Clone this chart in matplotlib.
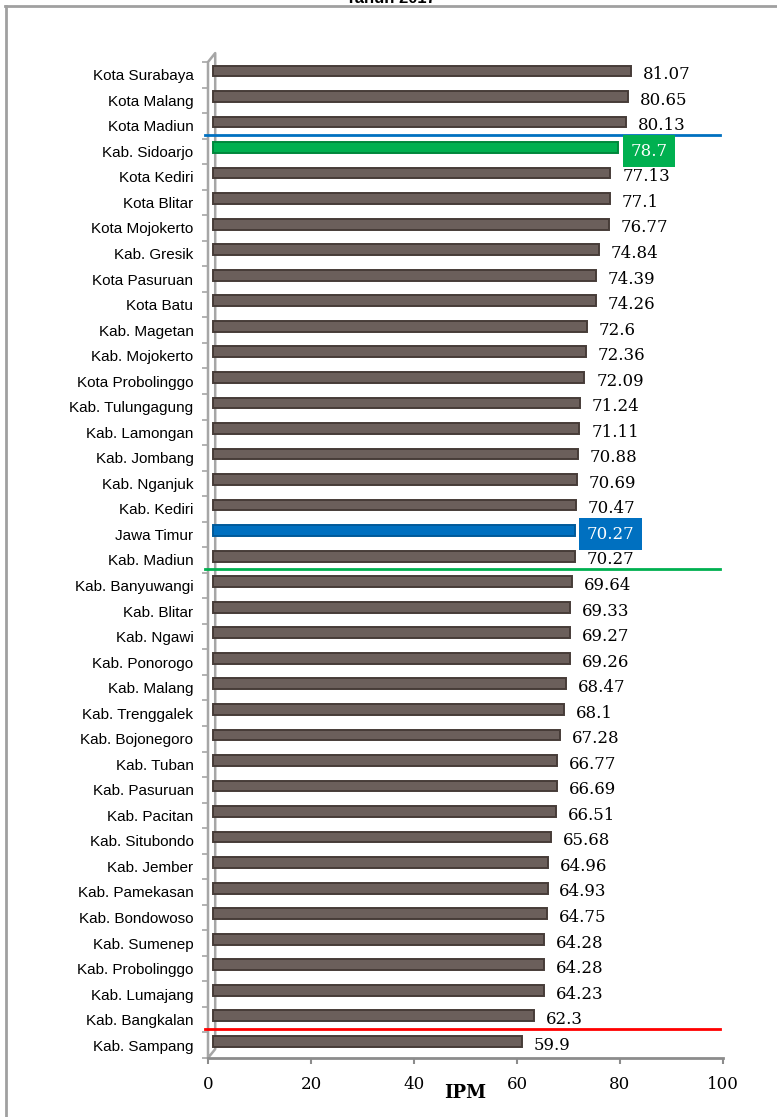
"""
IPM Kabupaten/Kota di Jawa Timur, Tahun 2017 - horizontal bar chart.
"""

import matplotlib
matplotlib.use("Agg")
import matplotlib.pyplot as plt
from matplotlib.lines import Line2D

regions = [
    "Kota Surabaya", "Kota Malang", "Kota Madiun", "Kab. Sidoarjo",
    "Kota Kediri", "Kota Blitar", "Kota Mojokerto", "Kab. Gresik",
    "Kota Pasuruan", "Kota Batu", "Kab. Magetan", "Kab. Mojokerto",
    "Kota Probolinggo", "Kab. Tulungagung", "Kab. Lamongan", "Kab. Jombang",
    "Kab. Nganjuk", "Kab. Kediri", "Jawa Timur", "Kab. Madiun",
    "Kab. Banyuwangi", "Kab. Blitar", "Kab. Ngawi", "Kab. Ponorogo",
    "Kab. Malang", "Kab. Trenggalek", "Kab. Bojonegoro", "Kab. Tuban",
    "Kab. Pasuruan", "Kab. Pacitan", "Kab. Situbondo", "Kab. Jember",
    "Kab. Pamekasan", "Kab. Bondowoso", "Kab. Sumenep", "Kab. Probolinggo",
    "Kab. Lumajang", "Kab. Bangkalan", "Kab. Sampang",
]
ipm = [
    81.07, 80.65, 80.13, 78.7, 77.13, 77.1, 76.77, 74.84, 74.39, 74.26,
    72.6, 72.36, 72.09, 71.24, 71.11, 70.88, 70.69, 70.47, 70.27, 70.27,
    69.64, 69.33, 69.27, 69.26, 68.47, 68.1, 67.28, 66.77, 66.69, 66.51,
    65.68, 64.96, 64.93, 64.75, 64.28, 64.28, 64.23, 62.3, 59.9,
]
value_labels = [
    "81.07", "80.65", "80.13", "78.7", "77.13", "77.1", "76.77", "74.84",
    "74.39", "74.26", "72.6", "72.36", "72.09", "71.24", "71.11", "70.88",
    "70.69", "70.47", "70.27", "70.27", "69.64", "69.33", "69.27", "69.26",
    "68.47", "68.1", "67.28", "66.77", "66.69", "66.51", "65.68", "64.96",
    "64.93", "64.75", "64.28", "64.28", "64.23", "62.3", "59.9",
]
highlight = {"Kab. Sidoarjo": "#00B050", "Jawa Timur": "#0070C0"}
# separator lines drawn below these rows
separators = [("Kota Madiun", "#0070C0"), ("Kab. Madiun", "#00B050"),
              ("Kab. Bangkalan", "#FF0000")]
x_ticks = [0, 20, 40, 60, 80, 100]

BAR = "#6B5F5B"
BAR_EDGE = "#463C38"
WALL = "#A6A6A6"
DEPTH_X = 1.0      # 3d depth offset of bars (data units)
DEPTH_Y = 0.15     # 3d depth offset upwards (category units)
SANS = ["Liberation Sans", "DejaVu Sans"]
SERIF = ["DejaVu Serif"]

fig = plt.figure(figsize=(7.77, 11.17), dpi=100)
ax = fig.add_axes([208 / 777, 59 / 1117, 515 / 777, 996 / 1117])

n = len(regions)
ypos = list(range(n))
colors = [highlight.get(r, BAR) for r in regions]
edges = ["#00873C" if c == "#00B050" else "#005A9A" if c == "#0070C0" else BAR_EDGE
         for c in colors]
ax.barh([y - DEPTH_Y for y in ypos], ipm, left=DEPTH_X, height=0.42,
        color=colors, edgecolor=edges, linewidth=1.4, zorder=3)

for y, v, lab, r in zip(ypos, ipm, value_labels, regions):
    if r in highlight:
        ax.annotate(lab, (v + DEPTH_X, y), xytext=(8.5, 0), textcoords="offset points",
                    va="center", ha="left", fontsize=12, family=SERIF, color="white",
                    bbox=dict(boxstyle="square,pad=0.45", fc=highlight[r], ec="none"),
                    zorder=5)
    else:
        ax.annotate(lab, (v + DEPTH_X, y), xytext=(8.5, 0), textcoords="offset points",
                    va="center", ha="left", fontsize=12, family=SERIF, color="black",
                    zorder=5)

for name, col in separators:
    yy = regions.index(name) + 0.5 - DEPTH_Y
    ax.plot([-0.5, 99.4], [yy, yy], color=col, lw=2, clip_on=False, zorder=4)

ax.set_xlim(0, 100)
ax.set_ylim(n - 0.5, -0.5)
ax.set_xticks(x_ticks)
ax.set_xticklabels([str(t) for t in x_ticks], family=SERIF, fontsize=12)
ax.set_yticks(ypos)
ax.set_yticklabels(regions, family=SANS, fontsize=11)
ax.set_yticks([y + 0.5 for y in range(-1, n)], minor=True)
ax.tick_params(axis="y", which="major", length=0, pad=10.5)
ax.tick_params(axis="y", which="minor", length=4, color=WALL, width=1.2)
ax.tick_params(axis="x", length=4, color="#8C8C8C", width=1.5, pad=9)

for s in ["top", "right", "left"]:
    ax.spines[s].set_visible(False)
ax.spines["bottom"].set_color("#8C8C8C")
ax.spines["bottom"].set_linewidth(2)

# 3d side wall of the axis
dx, dy = 1.4, 0.35
ax.plot([0, 0, dx, dx, 0], [n - 0.5, -0.5, -0.5 - dy, n - 0.5 - dy, n - 0.5],
        color=WALL, lw=1.8, clip_on=False, zorder=2)

fig.text(465 / 777, 1 - 1093 / 1117, "IPM", ha="center", va="center",
         family=SERIF, fontsize=13, fontweight="bold")
# title sits mostly above the top edge, as in the source
fig.text(391 / 777, 1 - 3 / 1117, "Tahun 2017", ha="center", va="baseline",
         family=SANS, fontsize=12, fontweight="bold")

# outer frame (top and left edges visible)
fig.add_artist(Line2D([5 / 777, 1], [1 - 6 / 1117, 1 - 6 / 1117],
                      transform=fig.transFigure, color="#A0A0A0", lw=2))
fig.add_artist(Line2D([6 / 777, 6 / 777], [0, 1 - 6 / 1117],
                      transform=fig.transFigure, color="#A0A0A0", lw=2))

fig.savefig("out.png", dpi=100)
